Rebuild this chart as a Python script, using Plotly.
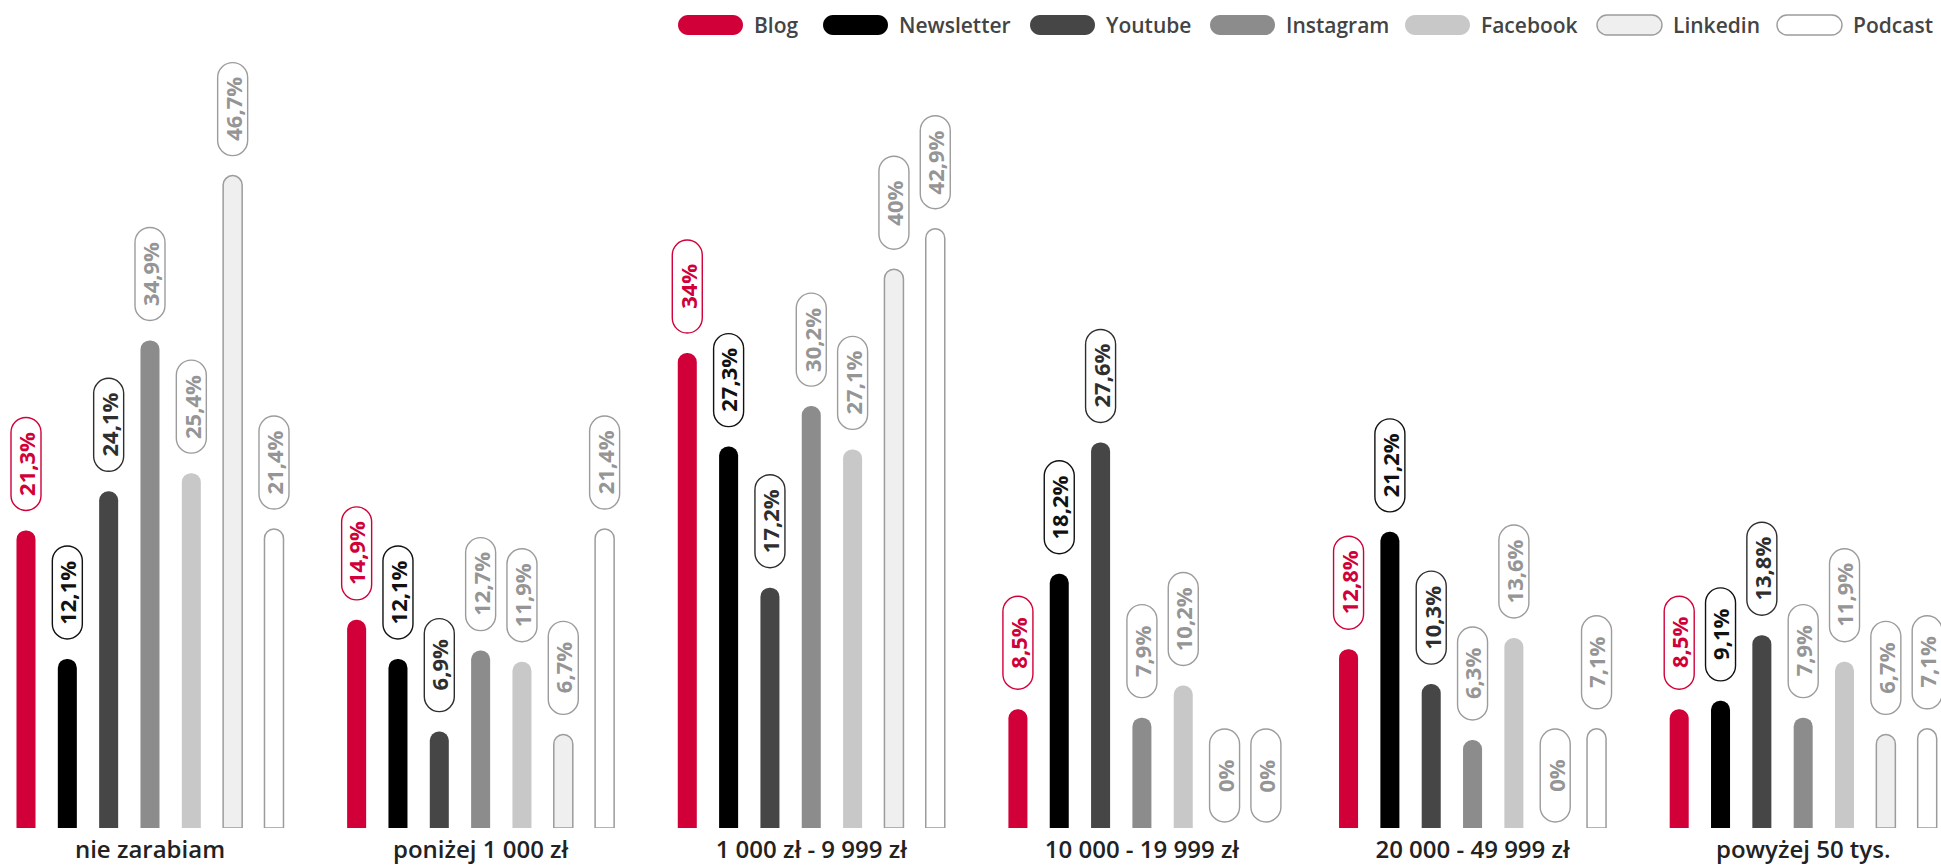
import plotly.graph_objects as go

# ---- data -------------------------------------------------------------
categories = ["nie zarabiam", "poniżej 1 000 zł", "1 000 zł - 9 999 zł",
              "10 000 - 19 999 zł", "20 000 - 49 999 zł", "powyżej 50 tys."]
series_names = ["Blog", "Newsletter", "Youtube", "Instagram", "Facebook", "Linkedin", "Podcast"]

blog = [21.3, 14.9, 34.0, 8.5, 12.8, 8.5]
newsletter = [12.1, 12.1, 27.3, 18.2, 21.2, 9.1]
youtube = [24.1, 6.9, 17.2, 27.6, 10.3, 13.8]
instagram = [34.9, 12.7, 30.2, 7.9, 6.3, 7.9]
facebook = [25.4, 11.9, 27.1, 10.2, 13.6, 11.9]
linkedin = [46.7, 6.7, 40.0, 0.0, 0.0, 6.7]
podcast = [21.4, 21.4, 42.9, 0.0, 7.1, 7.1]

series_values = [blog, newsletter, youtube, instagram, facebook, linkedin, podcast]

# ---- styles -----------------------------------------------------------
FONT = "Open Sans"
RED = "#d10038"
GREY_LINE = "#9c9c9c"
fill_colors = [RED, "#000000", "#464646", "#8c8c8c", "#c8c8c8", "#efefef", "#ffffff"]
bar_line_colors = [None, None, None, None, None, GREY_LINE, GREY_LINE]
label_colors = [RED, "#111111", "#2e2e2e", "#959595", "#959595", "#959595", "#959595"]

W, H = 1941, 867
MARGIN_B = 39
PLOT_H = H - MARGIN_B
PX_PER_PCT = 13.97
SLOT_PX = 41.33          # distance between neighbouring bars
FIRST_BAR_PX = 26        # centre of the very first bar
SLOTS_PER_GROUP = 8      # 7 bars + one empty slot between groups
BAR_W = 0.46

PILL_W, PILL_H, PILL_GAP = 30, 93, 20


def fmt(v):
    if float(v).is_integer():
        return f"{int(v)}%"
    return f"{v:.1f}".replace(".", ",") + "%"


def pill_path(w, h, bottom):
    """Rounded capsule in pixel offsets (y grows upwards)."""
    r = w / 2
    k = 0.5523 * r
    top = bottom + h
    return (f"M {-r},{bottom + r} L {-r},{top - r} "
            f"C {-r},{top - r + k} {-k},{top} 0,{top} "
            f"C {k},{top} {r},{top - r + k} {r},{top - r} "
            f"L {r},{bottom + r} "
            f"C {r},{bottom + r - k} {k},{bottom} 0,{bottom} "
            f"C {-k},{bottom} {-r},{bottom + r - k} {-r},{bottom + r} Z")


fig = go.Figure()
shapes = []
annotations = []

for k, (name, vals) in enumerate(zip(series_names, series_values)):
    xs = [g * SLOTS_PER_GROUP + k for g in range(len(categories))]
    has_line = bar_line_colors[k] is not None
    fig.add_trace(go.Bar(
        name=name, x=xs, y=vals, width=BAR_W,
        marker=dict(
            color=fill_colors[k],
            cornerradius="50%",
            line=dict(color=bar_line_colors[k] or fill_colors[k],
                      width=[1.5 if (has_line and v > 0) else 0 for v in vals]),
        ),
        showlegend=False, hoverinfo="skip",
    ))
    for x, v in zip(xs, vals):
        gap = PILL_GAP if v > 0 else 6
        shapes.append(dict(
            type="path", xref="x", yref="y",
            xsizemode="pixel", ysizemode="pixel", xanchor=x, yanchor=v,
            path=pill_path(PILL_W, PILL_H, gap),
            line=dict(color=label_colors[k] if k < 3 else GREY_LINE, width=1.4),
            fillcolor="rgba(255,255,255,0)", layer="above",
        ))
        annotations.append(dict(
            x=x, y=v, xref="x", yref="y", text=fmt(v), showarrow=False,
            textangle=-90, yshift=gap + PILL_H / 2, xanchor="center", yanchor="middle",
            font=dict(family=FONT, size=22, color=label_colors[k], weight=700),
        ))

# ---- custom legend: capsule swatches + labels ---------------------------
legend_left_px = [678, 823, 1030, 1210, 1405, 1597, 1777]
LEG_Y = 25
LEG_SW_W, LEG_SW_H = 65, 20
for k, name in enumerate(series_names):
    cx = (legend_left_px[k] + LEG_SW_W / 2) / W
    cy = 1 - LEG_Y / PLOT_H
    r = LEG_SW_H / 2
    half = LEG_SW_W / 2
    kk = 0.5523 * r
    path = (f"M {-half + r},{r} L {half - r},{r} "
            f"C {half - r + kk},{r} {half},{kk} {half},0 "
            f"C {half},{-kk} {half - r + kk},{-r} {half - r},{-r} "
            f"L {-half + r},{-r} "
            f"C {-half + r - kk},{-r} {-half},{-kk} {-half},0 "
            f"C {-half},{kk} {-half + r - kk},{r} {-half + r},{r} Z")
    has_line = bar_line_colors[k] is not None
    shapes.append(dict(
        type="path", xref="paper", yref="paper",
        xsizemode="pixel", ysizemode="pixel", xanchor=cx, yanchor=cy,
        path=path, fillcolor=fill_colors[k],
        line=dict(color=GREY_LINE if has_line else fill_colors[k], width=1.4 if has_line else 0),
        layer="above",
    ))
    annotations.append(dict(
        x=(legend_left_px[k] + LEG_SW_W + 9) / W, y=cy, xref="paper", yref="paper",
        text=name, showarrow=False, xanchor="left", yanchor="middle",
        font=dict(family=FONT, size=21, color="#444444", weight=600),
    ))

x_min = -FIRST_BAR_PX / SLOT_PX
x_max = (W - FIRST_BAR_PX) / SLOT_PX

fig.update_layout(
    width=W, height=H,
    margin=dict(l=0, r=0, t=0, b=MARGIN_B, autoexpand=False),
    paper_bgcolor="white", plot_bgcolor="white",
    barmode="overlay",
    shapes=shapes, annotations=annotations,
    font=dict(family=FONT),
    xaxis=dict(
        range=[x_min, x_max],
        tickvals=[g * SLOTS_PER_GROUP + 3 for g in range(len(categories))],
        ticktext=categories,
        ticks="", showgrid=False, zeroline=False, showline=False,
        tickfont=dict(family=FONT, size=24, color="#222222", weight=600),
        ticklabelstandoff=5,
        automargin=False, fixedrange=True,
    ),
    yaxis=dict(
        range=[0, PLOT_H / PX_PER_PCT],
        visible=False, showgrid=False, zeroline=False, fixedrange=True,
    ),
)

fig.write_html("out.html")
